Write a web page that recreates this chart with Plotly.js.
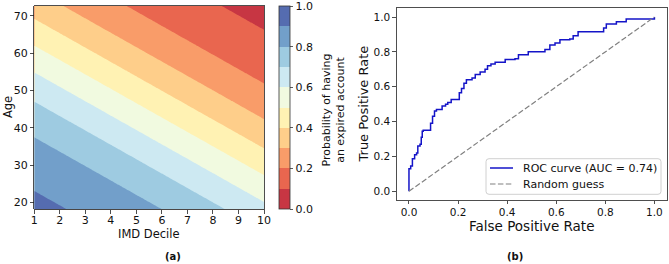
<!DOCTYPE html>
<html>
<head>
<meta charset="utf-8">
<script src="https://cdn.plot.ly/plotly-3.0.1.min.js"></script>
<style>html,body{margin:0;padding:0;background:#fff;}#chart{width:669px;height:264px;}</style>
</head>
<body>
<div id="chart"></div>
<script>
const imdDeciles = [1, 2, 3, 4, 5, 6, 7, 8, 9, 10];
const ageTicks = [20, 30, 40, 50, 60, 70];
const ageRange = [18.2, 72.6];
const modelIntercept = 3.72;     // logit intercept
const imdCoef = -0.2175;         // per IMD decile
const ageCoef = -0.0565;         // per year of age
const contourLevels = {start: 0, end: 1, size: 0.1};
const bandColors = ['rgb(199,54,67)', 'rgb(233,102,79)', 'rgb(249,156,105)', 'rgb(254,206,138)',
  'rgb(255,242,179)', 'rgb(241,250,224)', 'rgb(205,233,242)', 'rgb(158,203,225)',
  'rgb(114,159,202)', 'rgb(85,108,176)'];
const colorbarTicks = [0, 0.2, 0.4, 0.6, 0.8, 1.0];

// ---- Panel (b): ROC curve ----
const fpr = [0, 0, 0.007, 0.014, 0.023, 0.031, 0.036, 0.045, 0.05, 0.054,
  0.058, 0.088, 0.096, 0.104, 0.112, 0.135, 0.149, 0.158, 0.172, 0.205,
  0.214, 0.224, 0.234, 0.257, 0.27, 0.29, 0.31, 0.32, 0.334, 0.351,
  0.392, 0.432, 0.446, 0.486, 0.554, 0.574, 0.595, 0.615, 0.655, 0.669,
  0.689, 0.793, 0.804, 0.845, 0.885, 1.0];
const tpr = [0, 0.13, 0.145, 0.187, 0.21, 0.22, 0.26, 0.27, 0.31, 0.345,
  0.35, 0.39, 0.43, 0.46, 0.47, 0.49, 0.50, 0.51, 0.527, 0.565,
  0.59, 0.62, 0.64, 0.65, 0.67, 0.685, 0.70, 0.72, 0.73, 0.74,
  0.756, 0.76, 0.784, 0.80, 0.813, 0.84, 0.851, 0.87, 0.874, 0.893,
  0.916, 0.937, 0.96, 0.973, 0.989, 1.0];
const chanceX = [0, 1];
const chanceY = [0, 1];
const rocTicks = [0, 0.2, 0.4, 0.6, 0.8, 1.0];
const legendLabels = ['ROC curve (AUC = 0.74)', 'Random guess'];

const ROC_COLOR = '#1414c8';
const CHANCE_COLOR = '#808080';
const CHANCE_DASH = '5.5px,2.4px';

// grid for the surface
const gx = [], gy = [];
for (let i = 0; i <= 90; i++) gx.push(imdDeciles[0] + i * (imdDeciles[imdDeciles.length - 1] - imdDeciles[0]) / 90);
for (let j = 0; j <= 109; j++) gy.push(ageRange[0] + j * (ageRange[1] - ageRange[0]) / 109);
const gz = gy.map(a => gx.map(d => 1 / (1 + Math.exp(-(modelIntercept + imdCoef * d + ageCoef * a)))));

const scale = [];
bandColors.forEach((c, k) => { scale.push([k / 10, c]); scale.push([(k + 1) / 10, c]); });

const FONT = 'DejaVu Sans, sans-serif';
const TXT = '#111';

const traces = [
  {
    type: 'contour', x: gx, y: gy, z: gz, xaxis: 'x', yaxis: 'y',
    zmin: 0, zmax: 1, autocontour: false,
    contours: {start: contourLevels.start, end: contourLevels.end, size: contourLevels.size, coloring: 'fill', showlines: false},
    line: {width: 0},
    colorscale: scale, showscale: true, showlegend: false, hoverinfo: 'skip',
    colorbar: {
      x: 279 / 669, xanchor: 'left', xpad: 0, ypad: 0,
      y: 0.5923, yanchor: 'middle', len: 203.3 / 264, lenmode: 'fraction',
      thickness: 11, thicknessmode: 'pixels',
      outlinecolor: '#333', outlinewidth: 0.8,
      tickvals: colorbarTicks.map(v => Math.min(v, 0.9995)), ticktext: colorbarTicks.map(v => v.toFixed(1)),
      ticks: 'outside', ticklen: 3.5, tickwidth: 0.8, tickcolor: '#333',
      ticklabeloverflow: 'allow',
      tickfont: {family: FONT, size: 11, color: TXT}
    }
  },
  {
    type: 'scatter', mode: 'lines', x: fpr, y: tpr, xaxis: 'x2', yaxis: 'y2',
    name: legendLabels[0], line: {color: ROC_COLOR, width: 1.5, shape: 'hv'}, hoverinfo: 'skip', showlegend: false
  },
  {
    type: 'scatter', mode: 'lines', x: chanceX, y: chanceY, xaxis: 'x2', yaxis: 'y2',
    name: legendLabels[1], line: {color: CHANCE_COLOR, width: 1.2, dash: CHANCE_DASH}, hoverinfo: 'skip', showlegend: false
  }
];

const axBase = {
  showgrid: false, zeroline: false, showline: true, mirror: true,
  linecolor: '#222', linewidth: 0.8, ticks: 'outside', ticklen: 3.5, tickwidth: 0.8, tickcolor: '#222',
  automargin: false, fixedrange: true, ticklabeloverflow: 'allow'
};

const W = 669, H = 264;
const px = v => v / W, py = v => (H - v) / H;

// legend box (rounded) in paper coords
function roundRect(x0, y0, x1, y1, r) {
  const X0 = px(x0), X1 = px(x1), Y0 = py(y0), Y1 = py(y1);
  const rx = r / W, ry = r / H;
  return `M${X0 + rx},${Y0} L${X1 - rx},${Y0} Q${X1},${Y0} ${X1},${Y0 - ry} L${X1},${Y1 + ry} Q${X1},${Y1} ${X1 - rx},${Y1} ` +
    `L${X0 + rx},${Y1} Q${X0},${Y1} ${X0},${Y1 + ry} L${X0},${Y0 - ry} Q${X0},${Y0} ${X0 + rx},${Y0} Z`;
}

const layout = {
  width: W, height: H,
  margin: {l: 0, r: 0, t: 0, b: 0},
  paper_bgcolor: '#fff', plot_bgcolor: '#fff',
  font: {family: FONT, color: TXT},
  showlegend: false,
  xaxis: Object.assign({}, axBase, {
    domain: [34.3 / W, 264 / W], anchor: 'y', range: [1, 10],
    tickvals: imdDeciles, tickfont: {family: FONT, size: 11, color: TXT}, ticklabelstandoff: -3
  }),
  yaxis: Object.assign({}, axBase, {
    domain: [(H - 209.3) / H, (H - 6) / H], anchor: 'x', range: ageRange,
    tickvals: ageTicks, tickfont: {family: FONT, size: 11, color: TXT}
  }),
  xaxis2: Object.assign({}, axBase, {
    domain: [396.7 / W, 666.7 / W], anchor: 'y2', range: [-0.05, 1.05],
    tickvals: rocTicks, ticktext: rocTicks.map(v => v.toFixed(1)),
    tickfont: {family: FONT, size: 10.5, color: TXT}, ticklabelstandoff: -1
  }),
  yaxis2: Object.assign({}, axBase, {
    domain: [(H - 200) / H, (H - 8.3) / H], anchor: 'x2', range: [-0.05, 1.05],
    tickvals: rocTicks, ticktext: rocTicks.map(v => v.toFixed(1)),
    tickfont: {family: FONT, size: 10.5, color: TXT}
  }),
  shapes: [
    {type: 'path', xref: 'paper', yref: 'paper', path: roundRect(486, 158.7, 661, 194.3, 3),
     fillcolor: 'rgba(255,255,255,0.85)', line: {color: '#d0d0d0', width: 1}},
    {type: 'line', xref: 'paper', yref: 'paper', x0: px(490), x1: px(513), y0: py(168), y1: py(168),
     line: {color: ROC_COLOR, width: 1.5}},
    {type: 'line', xref: 'paper', yref: 'paper', x0: px(490), x1: px(513), y0: py(184), y1: py(184),
     line: {color: CHANCE_COLOR, width: 1.2, dash: CHANCE_DASH}}
  ],
  annotations: [
    {text: legendLabels[0], xref: 'paper', yref: 'paper', x: px(521), y: py(168),
     xanchor: 'left', yanchor: 'middle', showarrow: false, font: {family: FONT, size: 11, color: TXT}},
    {text: legendLabels[1], xref: 'paper', yref: 'paper', x: px(521), y: py(184),
     xanchor: 'left', yanchor: 'middle', showarrow: false, font: {family: FONT, size: 11, color: TXT}},
    {text: 'IMD Decile', xref: 'paper', yref: 'paper', x: px(149), y: py(233.5),
     xanchor: 'center', yanchor: 'middle', showarrow: false, font: {family: FONT, size: 11.5, color: TXT}},
    {text: 'Age', xref: 'paper', yref: 'paper', x: px(7.5), y: py(107.6), textangle: -90,
     xanchor: 'center', yanchor: 'middle', showarrow: false, font: {family: FONT, size: 11.5, color: TXT}},
    {text: 'Probability of having<br>an expired account', xref: 'paper', yref: 'paper', x: px(333.5), y: py(110),
     textangle: -90, xanchor: 'center', yanchor: 'middle', showarrow: false, font: {family: FONT, size: 11, color: TXT}},
    {text: 'False Positive Rate', xref: 'paper', yref: 'paper', x: px(531.7), y: py(225.7),
     xanchor: 'center', yanchor: 'middle', showarrow: false, font: {family: FONT, size: 13.5, color: TXT}},
    {text: 'True Positive Rate', xref: 'paper', yref: 'paper', x: px(363.3), y: py(104.2), textangle: -90,
     xanchor: 'center', yanchor: 'middle', showarrow: false, font: {family: FONT, size: 13, color: TXT}},
    {text: '<b>(a)</b>', xref: 'paper', yref: 'paper', x: px(173), y: py(256),
     xanchor: 'center', yanchor: 'middle', showarrow: false, font: {family: FONT, size: 10, color: TXT}},
    {text: '<b>(b)</b>', xref: 'paper', yref: 'paper', x: px(515), y: py(256),
     xanchor: 'center', yanchor: 'middle', showarrow: false, font: {family: FONT, size: 10, color: TXT}}
  ]
};

Plotly.newPlot('chart', traces, layout, {staticPlot: true, displayModeBar: false});
</script>
</body>
</html>
